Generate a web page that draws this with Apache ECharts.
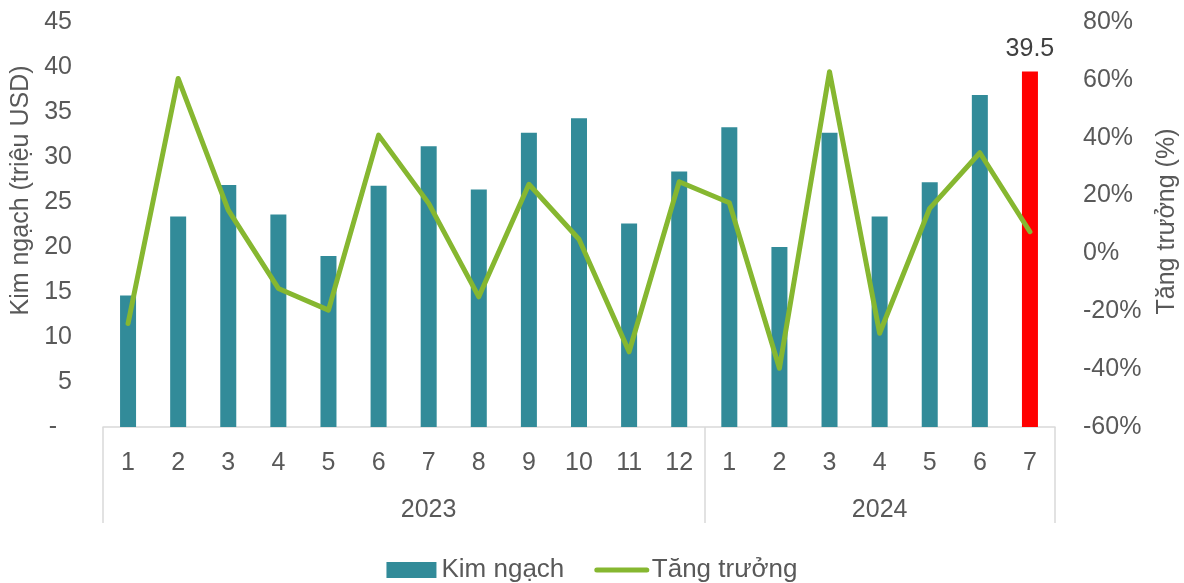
<!DOCTYPE html>
<html>
<head>
<meta charset="utf-8">
<script src="https://cdn.jsdelivr.net/npm/echarts@6/dist/echarts.min.js"></script>
<style>
  html, body { margin:0; padding:0; background:#fff; }
  #chart { width:1184px; height:583px; }
</style>
</head>
<body>
<div id="chart"></div>
<script>
// ===== Data
const months = ['1','2','3','4','5','6','7','8','9','10','11','12','1','2','3','4','5','6','7'];
const years = ['2023','2024'];
const yearStart = [0, 12];   // index where each year begins
const kimNgach = [14.6,23.4,26.9,23.6,19.0,26.8,31.2,26.4,32.7,34.3,22.6,28.4,33.3,20.0,32.7,23.4,27.2,36.9,39.5];
const tangTruong = [-24.2,60.5,15.0,-12.1,-19.6,40.9,17.3,-15.0,23.9,4.9,-34.0,24.8,17.5,-39.7,62.8,-27.6,15.6,34.8,7.5];
const highlightIdx = 18;

// ===== Helpers
const FONT = 'Liberation Sans, Arial, sans-serif';
const TXT = '#595959';
const GRID_LINE = '#d9d9d9';
const FS = 25;

// year labels placed in the middle of each year's span
const yearLabels = months.map(()=>'');
years.forEach((y,i)=>{
  const s = yearStart[i];
  const e = (i+1<yearStart.length) ? yearStart[i+1] : months.length;
  const mid = (s + e - 1) / 2;
  const idx = Math.floor(mid);
  yearLabels[idx] = { value: y, textStyle: { padding: mid>idx ? [0,0,0,100] : 0 } };
});
const yearAxisData = yearLabels.map((v,i)=> typeof v==='object' ? v : { value: 'x'+i, textStyle:{ color:'transparent' } });

const barData = kimNgach.map((v,i)=> i===highlightIdx
  ? { value:v, itemStyle:{ color:'#ff0000' }, label:{ show:true, position:'top', distance:10, color:'#404040', fontSize:FS, fontFamily:FONT } }
  : v);

// ===== Chart
const chart = echarts.init(document.getElementById('chart'));
chart.setOption({
  backgroundColor:'#fff',
  animation:false,
  textStyle:{ fontFamily:FONT },
  grid:{ left:103, right:129, top:22, bottom:156, containLabel:false, outerBoundsMode:'none' },
  legend:{
    top:552, left:'center',
    itemWidth:50, itemHeight:16, itemGap:30,
    textStyle:{ color:TXT, fontSize:26, fontFamily:FONT },
    data:[
      { name:'Kim ngạch', icon:'rect' },
      { name:'Tăng trưởng', itemStyle:{ opacity:0 }, lineStyle:{ width:5, color:'#86b730' } }
    ]
  },
  xAxis:[
    {
      type:'category', data:months, position:'bottom',
      axisLine:{ show:true, onZero:false, lineStyle:{ color:GRID_LINE, width:1.5 } },
      axisTick:{ show:false },
      axisLabel:{ color:TXT, fontSize:FS, margin:24, interval:0 }
    },
    {
      type:'category', data:yearAxisData, position:'bottom',
      axisLine:{ show:false, onZero:false },
      axisTick:{ show:true, length:96, lineStyle:{ color:GRID_LINE, width:1.5 },
        interval:(idx)=> yearStart.includes(idx) },
      axisLabel:{ color:TXT, fontSize:FS, margin:71, interval:0 }
    }
  ],
  yAxis:[
    {
      type:'value', min:0, max:45, interval:5,
      name:'Kim ngạch (triệu USD)', nameLocation:'middle', nameRotate:90, nameGap:50,
      nameTextStyle:{ color:TXT, fontSize:FS, padding:[0,0,0,68] },
      axisLine:{ show:false }, axisTick:{ show:false }, splitLine:{ show:false },
      axisLabel:{ color:TXT, fontSize:FS, margin:31,
        formatter:v=> v===0 ? '{d|-}' : String(v),
        rich:{ d:{ color:TXT, fontSize:FS, padding:[0,15,0,0] } } }
    },
    {
      type:'value', min:-60, max:80, interval:20, position:'right',
      name:'Tăng trưởng (%)', nameLocation:'middle', nameRotate:90, nameGap:100,
      nameTextStyle:{ color:TXT, fontSize:FS, padding:[0,0,0,6] },
      axisLine:{ show:false }, axisTick:{ show:false }, splitLine:{ show:false },
      axisLabel:{ color:TXT, fontSize:FS, margin:28, formatter:v=> v+'%' }
    }
  ],
  series:[
    {
      name:'Kim ngạch', type:'bar', xAxisIndex:0, yAxisIndex:0,
      barWidth:16, itemStyle:{ color:'#328b99' },
      data:barData
    },
    {
      name:'Tăng trưởng', type:'line', xAxisIndex:0, yAxisIndex:1,
      symbol:'none', lineStyle:{ color:'#86b730', width:5, join:'round', cap:'round' },
      itemStyle:{ color:'#86b730' },
      data:tangTruong
    }
  ]
});
</script>
</body>
</html>
